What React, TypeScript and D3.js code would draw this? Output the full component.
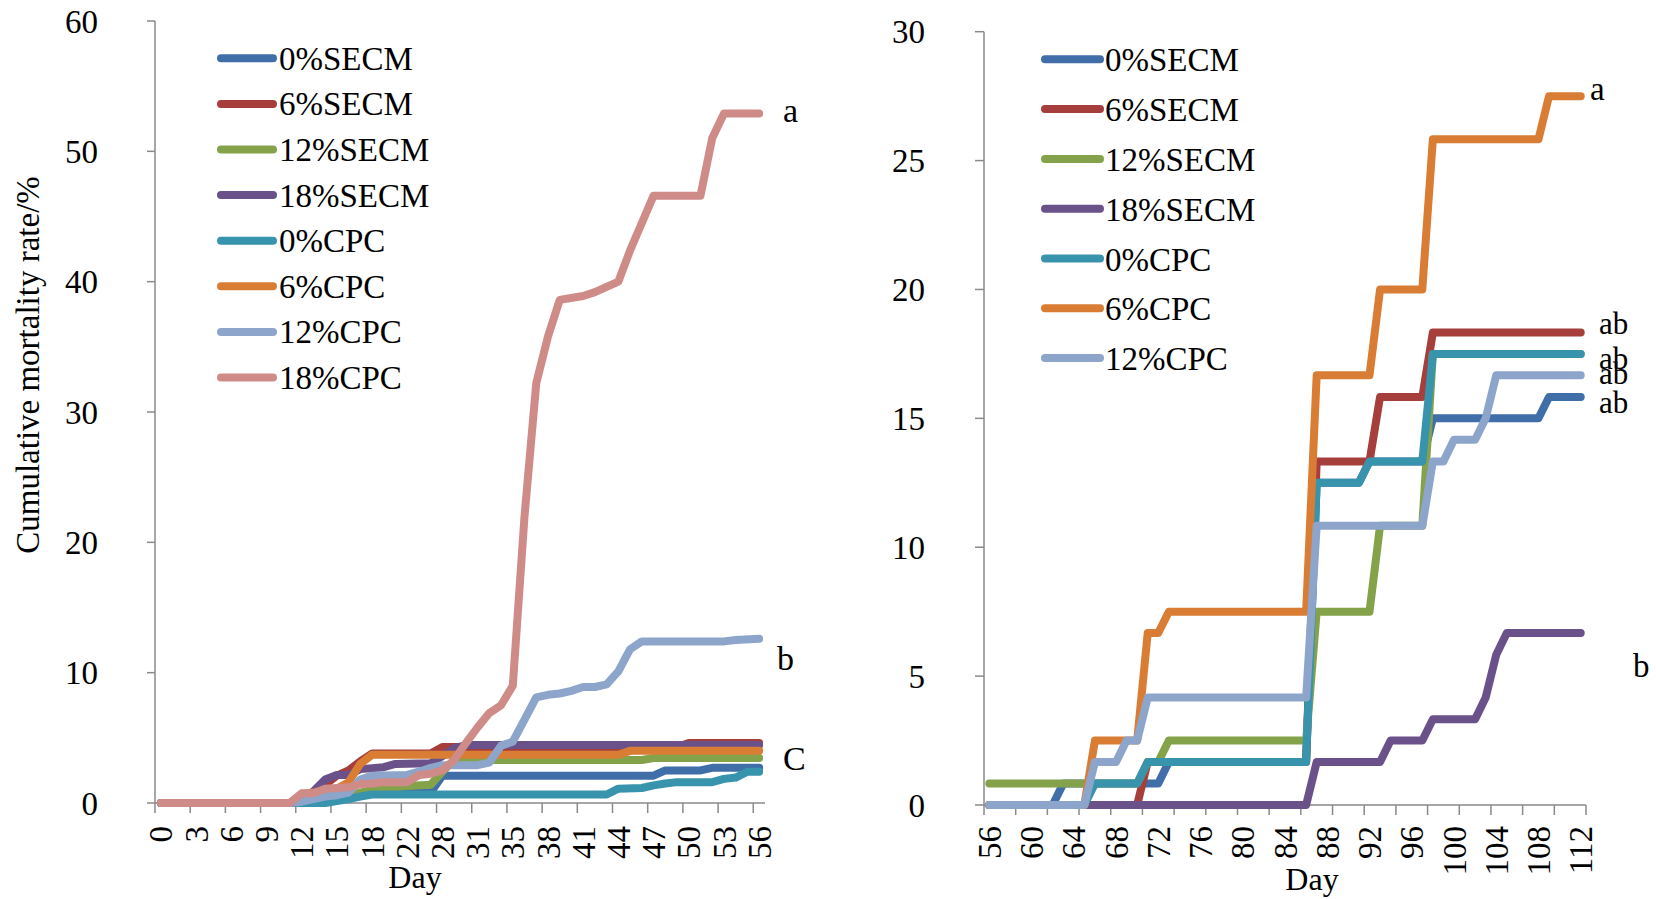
import React from "react";
import * as d3 from "d3";

type Pt = [number, number];

const seriesNames = ["0%SECM", "6%SECM", "12%SECM", "18%SECM", "0%CPC", "6%CPC", "12%CPC", "18%CPC"];
const seriesColors = ["#3f6ea9", "#a63f3c", "#84a24a", "#6b5189", "#3893ad", "#d97d35", "#8ea5cb", "#cf8b88"];

// ---------- Left panel (category index 0..51, labels every 3rd category) ----------
const leftCategoryCount = 52;
const leftTickLabels = ["0", "3", "6", "9", "12", "15", "18", "22", "28", "31", "35", "38", "41", "44", "47", "50", "53", "56"];
const leftYTicks = [0, 10, 20, 30, 40, 50, 60];

const left0SECM: Pt[] = [[0, 0], [12, 0], [13, 0.2], [15, 0.5], [17, 0.7], [23, 0.8], [24, 2.1], [42, 2.1], [43, 2.5], [46, 2.5], [47, 2.7], [51, 2.7]];
const left6SECM: Pt[] = [[0, 0], [12, 0], [13, 0.7], [14, 1.4], [15, 2.1], [16, 2.5], [17, 3.2], [18, 3.8], [23, 3.8], [24, 4.3], [44, 4.3], [45, 4.6], [51, 4.6]];
const left12SECM: Pt[] = [[0, 0], [13, 0], [15, 0.4], [17, 0.8], [18, 1.0], [21, 1.3], [23, 1.4], [24, 2.4], [25, 3.3], [41, 3.3], [42, 3.45], [51, 3.45]];
const left18SECM: Pt[] = [[0, 0], [12, 0], [13, 0.9], [14, 1.8], [15, 2.15], [16, 2.15], [17, 2.6], [19, 2.75], [20, 3.0], [23, 3.05], [24, 3.6], [25, 4.2], [26, 4.45], [51, 4.45]];
const left0CPC: Pt[] = [[0, 0], [14, 0], [15, 0.15], [16, 0.3], [17, 0.5], [18, 0.65], [38, 0.65], [39, 1.1], [41, 1.15], [42, 1.35], [43, 1.5], [44, 1.6], [47, 1.6], [48, 1.85], [49, 1.95], [50, 2.4], [51, 2.4]];
const left6CPC: Pt[] = [[0, 0], [11, 0], [12, 0.7], [13, 0.8], [14, 1.0], [15, 1.1], [16, 1.6], [17, 3.0], [18, 3.7], [39, 3.7], [40, 4.0], [51, 4.0]];
const left12CPC: Pt[] = [[0, 0], [11, 0], [12, 0.1], [13, 0.3], [14, 0.5], [15, 0.6], [16, 0.8], [17, 1.8], [18, 2.1], [21, 2.15], [22, 2.4], [23, 2.7], [24, 2.9], [27, 2.9], [28, 3.1], [29, 4.4], [30, 4.7], [31, 6.4], [32, 8.1], [33, 8.3], [34, 8.4], [35, 8.6], [36, 8.9], [37, 8.9], [38, 9.1], [39, 10.1], [40, 11.8], [41, 12.4], [48, 12.4], [49, 12.5], [51, 12.6]];
const left18CPC: Pt[] = [[0, 0], [11, 0], [12, 0.74], [13, 0.74], [14, 1.1], [15, 1.15], [16, 1.2], [17, 1.45], [18, 1.5], [19, 1.6], [21, 1.6], [22, 2.15], [23, 2.25], [24, 2.5], [25, 3.3], [26, 4.6], [27, 5.8], [28, 6.9], [29, 7.5], [30, 9.0], [31, 22], [32, 32.2], [33, 35.8], [34, 38.6], [36, 38.9], [37, 39.2], [38, 39.6], [39, 40.0], [40, 42.4], [41, 44.5], [42, 46.6], [46, 46.6], [47, 51.0], [48, 52.9], [51, 52.9]];

// ---------- Right panel (days 56..112) ----------
const rightFirstDay = 56;
const rightLastDay = 112;
const rightTickLabels = ["56", "60", "64", "68", "72", "76", "80", "84", "88", "92", "96", "100", "104", "108", "112"];
const rightYTicks = [0, 5, 10, 15, 20, 25, 30];

const right0SECM: Pt[] = [[56, 0], [62, 0], [63, 0.83], [72, 0.83], [73, 1.67], [86, 1.67], [87, 12.5], [91, 12.5], [92, 13.33], [97, 13.33], [98, 15.0], [108, 15.0], [109, 15.83], [112, 15.83]];
const right6SECM: Pt[] = [[56, 0], [70, 0], [71, 1.67], [86, 1.67], [87, 13.33], [92, 13.33], [93, 15.83], [97, 15.83], [98, 18.33], [112, 18.33]];
const right12SECM: Pt[] = [[56, 0.83], [70, 0.83], [71, 1.67], [72, 1.67], [73, 2.5], [86, 2.5], [87, 7.5], [92, 7.5], [93, 10.83], [97, 10.83], [98, 17.5], [112, 17.5]];
const right18SECM: Pt[] = [[56, 0], [86, 0], [87, 1.67], [93, 1.67], [94, 2.5], [97, 2.5], [98, 3.33], [102, 3.33], [103, 4.17], [104, 5.83], [105, 6.67], [112, 6.67]];
const right0CPC: Pt[] = [[56, 0], [65, 0], [66, 0.83], [70, 0.83], [71, 1.67], [86, 1.67], [87, 12.5], [91, 12.5], [92, 13.33], [97, 13.33], [98, 17.5], [112, 17.5]];
const right6CPC: Pt[] = [[56, 0], [65, 0], [66, 2.5], [70, 2.5], [71, 6.67], [72, 6.67], [73, 7.5], [86, 7.5], [87, 16.67], [92, 16.67], [93, 20], [97, 20], [98, 25.83], [108, 25.83], [109, 27.5], [112, 27.5]];
const right12CPC: Pt[] = [[56, 0], [65, 0], [66, 1.67], [68, 1.67], [69, 2.5], [70, 2.5], [71, 4.17], [86, 4.17], [87, 10.83], [97, 10.83], [98, 13.33], [99, 13.33], [100, 14.17], [102, 14.17], [103, 15.0], [104, 16.67], [112, 16.67]];

// significance letters: [text, value level of baseline]
const leftLetters: [string, number][] = [["a", 52.25], ["b", 10.2], ["C", 2.53]];
const rightLetters: [string, number][] = [["a", 27.34], ["ab", 18.29], ["ab", 16.93], ["ab", 16.35], ["ab", 15.19], ["b", 4.96]];

const FONT = "'Liberation Serif', 'Times New Roman', serif";
const AXIS = "#8a8a8a";
const FS = 33;

const leftSeries = [left0SECM, left6SECM, left12SECM, left18SECM, left0CPC, left6CPC, left12CPC, left18CPC];
const rightSeries = [right0SECM, right6SECM, right12SECM, right18SECM, right0CPC, right6CPC, right12CPC];

export default function App() {
  // Left scales
  const lx = d3.scaleBand<number>().domain(d3.range(leftCategoryCount)).range([155, 765]).paddingInner(0).paddingOuter(0);
  const lw = lx.bandwidth();
  const lxc = (i: number) => (lx(i) as number) + lw / 2;
  const ly = d3.scaleLinear().domain([0, 60]).range([803, 21]);

  // Right scales
  const rdays = d3.range(rightFirstDay, rightLastDay + 1);
  const rx = d3.scaleBand<number>().domain(rdays).range([984, 1586]).paddingInner(0).paddingOuter(0);
  const rw = rx.bandwidth();
  const rxc = (d: number) => (rx(d) as number) + rw / 2;
  const ry = d3.scaleLinear().domain([0, 30]).range([805, 31.7]);

  const lLine = d3.line<Pt>().x((d) => lxc(d[0])).y((d) => ly(d[1]));
  const rLine = d3.line<Pt>().x((d) => rxc(d[0])).y((d) => ry(d[1]));

  const leftTickIdx = d3.range(0, leftCategoryCount, 3);
  const rightTickIdx = d3.range(0, rdays.length + 1, 3);

  return (
    <svg width={1656} height={899} style={{ position: "absolute", left: 0, top: 0, background: "#fff" }} fontFamily={FONT}>
      <rect x={0} y={0} width={1656} height={899} fill="#fff" />
      {/* ===== LEFT PANEL ===== */}
      <text transform={`translate(27,365) rotate(-90)`} textAnchor="middle" dy="0.35em" fontSize={FS} fill="#000">
        Cumulative mortality rate/%
      </text>
      {leftYTicks.map((t) => (
        <g key={"ly" + t}>
          <line x1={147} x2={155} y1={ly(t)} y2={ly(t)} stroke={AXIS} strokeWidth={1.5} />
          <text x={98} y={ly(t)} dy="0.35em" textAnchor="end" fontSize={FS} fill="#000">{t}</text>
        </g>
      ))}
      <line x1={155} x2={155} y1={ly(60)} y2={ly(0)} stroke={AXIS} strokeWidth={1.5} />
      <line x1={155} x2={765} y1={ly(0)} y2={ly(0)} stroke={AXIS} strokeWidth={1.5} />
      {leftTickIdx.map((i) => (
        <line key={"lt" + i} x1={lx(i) as number} x2={lx(i) as number} y1={ly(0)} y2={ly(0) + 10} stroke={AXIS} strokeWidth={1.5} />
      ))}
      {leftTickLabels.map((lab, k) => (
        <text key={"ll" + k} transform={`translate(${lxc(k * 3)},826) rotate(-90)`} textAnchor="end" dy="0.35em" fontSize={FS} fill="#000">{lab}</text>
      ))}
      <text x={415} y={888} textAnchor="middle" fontSize={32} fill="#000">Day</text>
      {leftSeries.map((s, k) => (
        <path key={"ls" + k} d={lLine(s) as string} fill="none" stroke={seriesColors[k]} strokeWidth={8} strokeLinejoin="round" strokeLinecap="round" />
      ))}
      {seriesNames.map((n, k) => {
        const yy = 58.3 + k * 45.6;
        return (
          <g key={"lg" + k}>
            <line x1={221} x2={273} y1={yy} y2={yy} stroke={seriesColors[k]} strokeWidth={8} strokeLinecap="round" />
            <text x={279} y={yy + 11.5} fontSize={FS} fill="#000">{n}</text>
          </g>
        );
      })}
      {leftLetters.map(([t, v], k) => (
        <text key={"la" + k} x={t === "b" ? 777 : 783} y={ly(v)} fontSize={34} fill="#000">{t}</text>
      ))}

      {/* ===== RIGHT PANEL ===== */}
      {rightYTicks.map((t) => (
        <g key={"ry" + t}>
          <line x1={975} x2={984} y1={ry(t)} y2={ry(t)} stroke={AXIS} strokeWidth={1.5} />
          <text x={925} y={ry(t)} dy="0.35em" textAnchor="end" fontSize={FS} fill="#000">{t}</text>
        </g>
      ))}
      <line x1={984} x2={984} y1={ry(30)} y2={ry(0)} stroke={AXIS} strokeWidth={1.5} />
      <line x1={984} x2={1586} y1={ry(0)} y2={ry(0)} stroke={AXIS} strokeWidth={1.5} />
      {rightTickIdx.map((i) => {
        const xx = 984 + i * rw;
        return <line key={"rt" + i} x1={xx} x2={xx} y1={ry(0)} y2={ry(0) + 10} stroke={AXIS} strokeWidth={1.5} />;
      })}
      {rightTickLabels.map((lab) => (
        <text key={"rl" + lab} transform={`translate(${rxc(+lab)},826) rotate(-90)`} textAnchor="end" dy="0.35em" fontSize={FS} fill="#000">{lab}</text>
      ))}
      <text x={1312} y={890} textAnchor="middle" fontSize={32} fill="#000">Day</text>
      {rightSeries.map((s, k) => (
        <path key={"rs" + k} d={rLine(s) as string} fill="none" stroke={seriesColors[k]} strokeWidth={8} strokeLinejoin="round" strokeLinecap="round" />
      ))}
      {seriesNames.slice(0, 7).map((n, k) => {
        const yy = 59.3 + k * 49.8;
        return (
          <g key={"rg" + k}>
            <line x1={1045} x2={1100} y1={yy} y2={yy} stroke={seriesColors[k]} strokeWidth={8} strokeLinecap="round" />
            <text x={1105} y={yy + 12} fontSize={FS} fill="#000">{n}</text>
          </g>
        );
      })}
      {rightLetters.map(([t, v], k) => (
        <text key={"ra" + k} x={t === "a" ? 1590 : t === "b" ? 1633 : 1599} y={ry(v)} fontSize={t === "ab" ? 31 : 33} fill="#000">{t}</text>
      ))}
    </svg>
  );
}
